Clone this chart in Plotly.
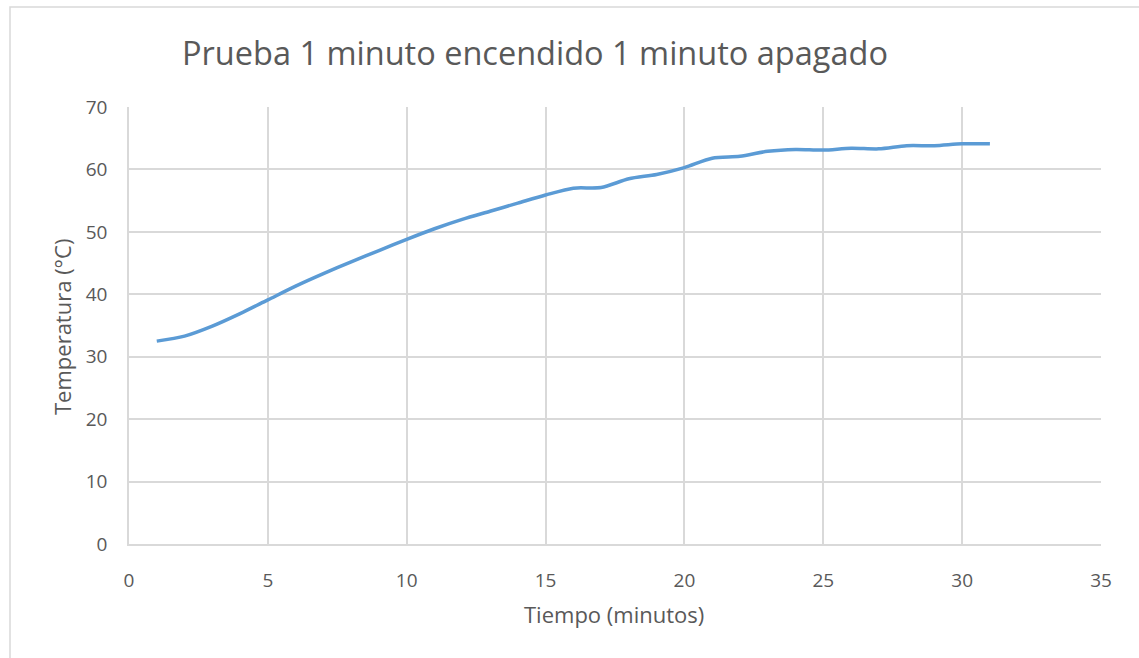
import plotly.graph_objects as go

# Temperature readings, one per minute (1 min on / 1 min off cycle)
minutos = list(range(1, 32))
temperatura = [
    32.5, 33.3, 34.9, 36.9, 39.1, 41.3, 43.3, 45.2, 47.0, 48.8,
    50.5, 52.0, 53.3, 54.6, 55.9, 57.0, 57.1, 58.5, 59.2, 60.3,
    61.8, 62.1, 62.9, 63.2, 63.1, 63.4, 63.3, 63.8, 63.8, 64.1,
    64.1,
]

x_ticks = [0, 5, 10, 15, 20, 25, 30, 35]
y_ticks = [0, 10, 20, 30, 40, 50, 60, 70]

W, H = 1139, 658
L, R, T, B = 129, 38, 107, 114
pw, ph = W - L - R, H - T - B

def px(xpix):
    return (xpix - L) / pw

def py(ypix):
    return (H - B - ypix) / ph

FONT = "Open Sans"
GREY = "#595959"
GRID = "#D9D9D9"

fig = go.Figure()
fig.add_trace(go.Scatter(
    x=minutos, y=temperatura, mode="lines",
    line=dict(color="#5B9BD5", width=3.5, shape="spline", smoothing=0.8),
    hoverinfo="x+y", showlegend=False,
))

fig.update_layout(
    width=W, height=H,
    margin=dict(l=L, r=R, t=T, b=B, pad=0),
    paper_bgcolor="white", plot_bgcolor="white",
    font=dict(family=FONT, color=GREY, size=19),
    xaxis=dict(
        range=[0, 35], tickvals=x_ticks, ticktext=[str(v) for v in x_ticks],
        showgrid=True, gridcolor=GRID, gridwidth=1.5,
        showline=True, linecolor=GRID, linewidth=1.5,
        zeroline=False, ticks="", ticklabelstandoff=18,
        tickfont=dict(size=19, color=GREY, family=FONT),
    ),
    yaxis=dict(
        range=[0, 70], tickvals=y_ticks, ticktext=[str(v) for v in y_ticks],
        showgrid=True, gridcolor=GRID, gridwidth=1.5,
        showline=True, linecolor=GRID, linewidth=1.5,
        zeroline=False, ticks="", ticklabelstandoff=16,
        tickfont=dict(size=19, color=GREY, family=FONT),
    ),
    shapes=[dict(
        type="rect", xref="paper", yref="paper",
        x0=px(10), x1=px(1145), y0=py(670), y1=py(7),
        line=dict(color=GRID, width=1.5), fillcolor="rgba(0,0,0,0)", layer="below",
    )],
    annotations=[
        dict(text="Prueba 1 minuto encendido 1 minuto apagado",
             xref="paper", yref="paper", x=px(535), y=py(53),
             xanchor="center", yanchor="middle", showarrow=False,
             font=dict(size=32.5, color=GREY, family=FONT)),
        dict(text="Tiempo (minutos)",
             xref="paper", yref="paper", x=px(614), y=py(614),
             xanchor="center", yanchor="middle", showarrow=False,
             font=dict(size=22, color=GREY, family=FONT)),
        dict(text="Temperatura (°C)",
             xref="paper", yref="paper", x=px(62), y=py(327),
             xanchor="center", yanchor="middle", showarrow=False, textangle=-90,
             font=dict(size=22, color=GREY, family=FONT)),
    ],
)

fig.write_html("out.html")
